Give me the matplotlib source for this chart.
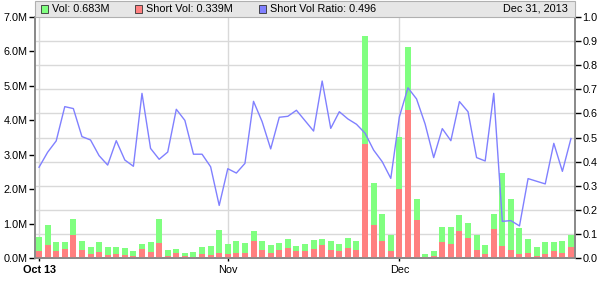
import numpy as np
import matplotlib
matplotlib.use('Agg')
import matplotlib.pyplot as plt
from matplotlib.patches import Rectangle

# daily values, Oct 2013 - Dec 31 2013 (millions of shares)
vol = [0.62, 0.965, 0.47, 0.47, 1.14, 0.50, 0.33, 0.47, 0.33, 0.33, 0.30, 0.21, 0.41, 0.47, 1.14, 0.24,
       0.27, 0.155, 0.18, 0.33, 0.36, 0.82, 0.41, 0.50, 0.44, 0.79, 0.50, 0.385, 0.44, 0.56, 0.36, 0.41,
       0.53, 0.56, 0.50, 0.41, 0.59, 0.50, 6.44, 2.18, 1.28, 0.675, 3.52, 6.12, 1.72, 0.125, 0.21,
       0.91, 0.91, 1.25, 1.02, 0.675, 0.385, 1.28, 2.47, 1.72, 0.88, 0.56, 0.33, 0.47, 0.47, 0.50, 0.683]
short = [0.21, 0.385, 0.21, 0.27, 0.675, 0.24, 0.12, 0.18, 0.09, 0.12, 0.09, 0.06, 0.27, 0.18, 0.44, 0.07,
         0.155, 0.07, 0.04, 0.12, 0.09, 0.155, 0.12, 0.155, 0.155, 0.50, 0.24, 0.155, 0.24, 0.30, 0.21, 0.21,
         0.27, 0.385, 0.24, 0.21, 0.30, 0.24, 3.31, 0.965, 0.50, 0.21, 2.01, 4.30, 1.11, 0.04, 0.07,
         0.47, 0.41, 0.79, 0.59, 0.24, 0.125, 0.85, 0.36, 0.24, 0.125, 0.155, 0.07, 0.125, 0.21, 0.155, 0.339]
ratio = [0.377, 0.439, 0.486, 0.628, 0.620, 0.504, 0.490, 0.425, 0.386, 0.487, 0.407, 0.381, 0.683, 0.455, 0.41, 0.44,
         0.617, 0.571, 0.431, 0.431, 0.379, 0.219, 0.371, 0.353, 0.393, 0.650, 0.566, 0.453, 0.584, 0.588, 0.613, 0.57,
         0.527, 0.734, 0.538, 0.607, 0.577, 0.555, 0.518, 0.448, 0.400, 0.331, 0.586, 0.706, 0.660, 0.556, 0.417,
         0.537, 0.487, 0.649, 0.607, 0.417, 0.403, 0.683, 0.153, 0.156, 0.134, 0.330, 0.319, 0.308, 0.476, 0.360, 0.496]

month_pos = [0, 22, 42]
month_lab = ['Oct 13', 'Nov', 'Dec']
left_ticks = [0, 1, 2, 3, 4, 5, 6, 7]
right_ticks = [0.0, 0.1, 0.2, 0.3, 0.4, 0.5, 0.6, 0.7, 0.8, 0.9, 1.0]

green = '#80ff80'
red = '#ff8080'
blue = '#8080ff'
gridc = '#d9d9d9'
axc = '#888888'

plt.rcParams['font.family'] = ['Liberation Sans', 'DejaVu Sans']
plt.rcParams['font.size'] = 7.8

W, H = 600, 294
fig = plt.figure(figsize=(W / 100, H / 100), dpi=100)
x0, x1, ytop, ybot = 35, 575, 16.8, 258.3
ax = fig.add_axes([x0 / W, (H - ybot) / H, (x1 - x0) / W, (ybot - ytop) / H])
ax2 = ax.twinx()

x = np.arange(len(vol))
ax.set_xlim(-0.47, len(vol) - 0.53)
ax.set_ylim(0, 7)
ax2.set_ylim(0, 1)

# grid lines (horizontal ones follow right axis ticks)
for r in right_ticks[1:-1]:
    ax.axhline(r * 7, color=gridc, lw=1, zorder=0)
for p in month_pos:
    ax.axvline(p, color=gridc, lw=1, zorder=0)

ax.bar(x, vol, width=0.7, color=green, zorder=2)
ax.bar(x, short, width=0.7, color=red, zorder=3)
ax2.plot(x, ratio, color=blue, lw=1, zorder=4)

ax.set_yticks(left_ticks)
ax.set_yticklabels(['%.1fM' % v for v in left_ticks])
ax2.set_yticks(right_ticks)
ax2.set_yticklabels(['%.1f' % v for v in right_ticks])
ax.set_xticks(month_pos)
ax.set_xticklabels(month_lab)
ax.get_xticklabels()[0].set_fontweight('bold')

ax.tick_params(axis='y', length=4, width=1, pad=1.5, colors='black')
ax2.tick_params(axis='y', length=4, width=1, pad=1.5, colors='black')
ax.tick_params(axis='x', length=2, width=1, pad=3, colors='black')

for a in (ax, ax2):
    a.spines['top'].set_visible(False)
    for s in ('left', 'right', 'bottom'):
        a.spines[s].set_color(axc)
        a.spines[s].set_linewidth(1.2)

# legend strip above plot
fig.patches.append(Rectangle((x0 / W, (H - 16.5) / H), (x1 - x0) / W, 16 / H,
                             transform=fig.transFigure, facecolor='#e6e6e6',
                             edgecolor='#b0b0b0', lw=0.8))
ty = (H - 8.5) / H
items = [(41, green, 'Vol: 0.683M'), (135, red, 'Short Vol: 0.339M'), (259, blue, 'Short Vol Ratio: 0.496')]
for px, c, t in items:
    fig.patches.append(Rectangle((px / W, (H - 12.5) / H), 7 / W, 7 / H,
                                 transform=fig.transFigure, facecolor=c,
                                 edgecolor='#333333', lw=0.6))
    fig.text((px + 11) / W, ty, t, va='center', ha='left')
fig.text(568 / W, ty, 'Dec 31, 2013', va='center', ha='right')

fig.savefig('out.png', dpi=100)
